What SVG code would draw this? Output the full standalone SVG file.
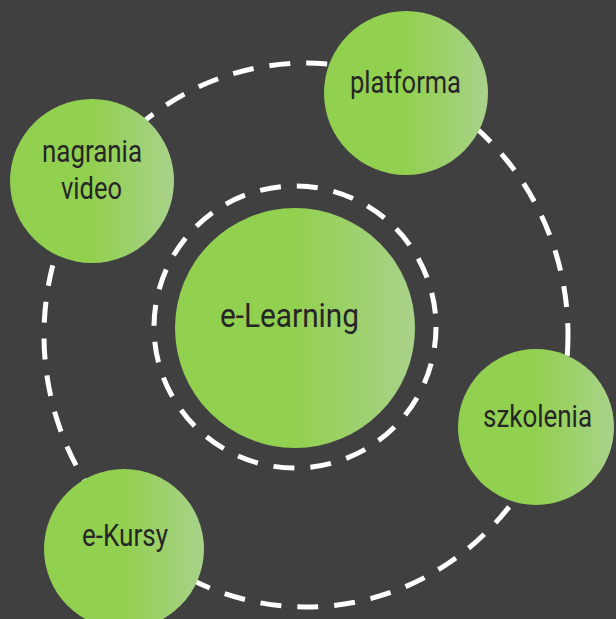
<svg xmlns="http://www.w3.org/2000/svg" width="616" height="619" viewBox="0 0 616 619">
  <defs>
    <linearGradient id="g" x1="0" y1="0" x2="1" y2="0">
      <stop offset="0" stop-color="#92d050"/>
      <stop offset="0.5" stop-color="#92d050"/>
      <stop offset="1" stop-color="#a9d28a"/>
    </linearGradient>
    <style>
      .ring { fill: none; stroke: #ffffff; stroke-width: 5; stroke-dasharray: 21 16; }
      .node { fill: url(#g); }
      .lbl { font-family: "Roboto", "Liberation Sans", sans-serif; fill: #262626; text-anchor: middle; }
      .sat { font-size: 31px; }
      .main { font-size: 33px; }
    </style>
  </defs>
  <rect width="616" height="619" fill="#404040"/>
  <g id="rings">
    <ellipse class="ring" cx="306" cy="335" rx="262" ry="272"/>
    <circle class="ring" cx="295" cy="327" r="141"/>
  </g>
  <g id="node-elearning">
    <circle class="node" cx="295" cy="328" r="120"/>
    <text class="lbl main" x="289.5" y="327" textLength="139" lengthAdjust="spacingAndGlyphs">e-Learning</text>
  </g>
  <g id="node-platforma">
    <circle class="node" cx="406" cy="93" r="82"/>
    <text class="lbl sat" x="405.5" y="93" textLength="111" lengthAdjust="spacingAndGlyphs">platforma</text>
  </g>
  <g id="node-nagrania">
    <circle class="node" cx="92" cy="181" r="82"/>
    <text class="lbl sat" x="92" y="162" textLength="100" lengthAdjust="spacingAndGlyphs">nagrania</text>
    <text class="lbl sat" x="91.5" y="198.5" textLength="61" lengthAdjust="spacingAndGlyphs">video</text>
  </g>
  <g id="node-szkolenia">
    <circle class="node" cx="536" cy="427" r="78"/>
    <text class="lbl sat" x="537.5" y="427" textLength="109" lengthAdjust="spacingAndGlyphs">szkolenia</text>
  </g>
  <g id="node-ekursy">
    <circle class="node" cx="124" cy="549" r="80"/>
    <text class="lbl sat" x="125" y="546" textLength="86" lengthAdjust="spacingAndGlyphs">e-Kursy</text>
  </g>
</svg>
